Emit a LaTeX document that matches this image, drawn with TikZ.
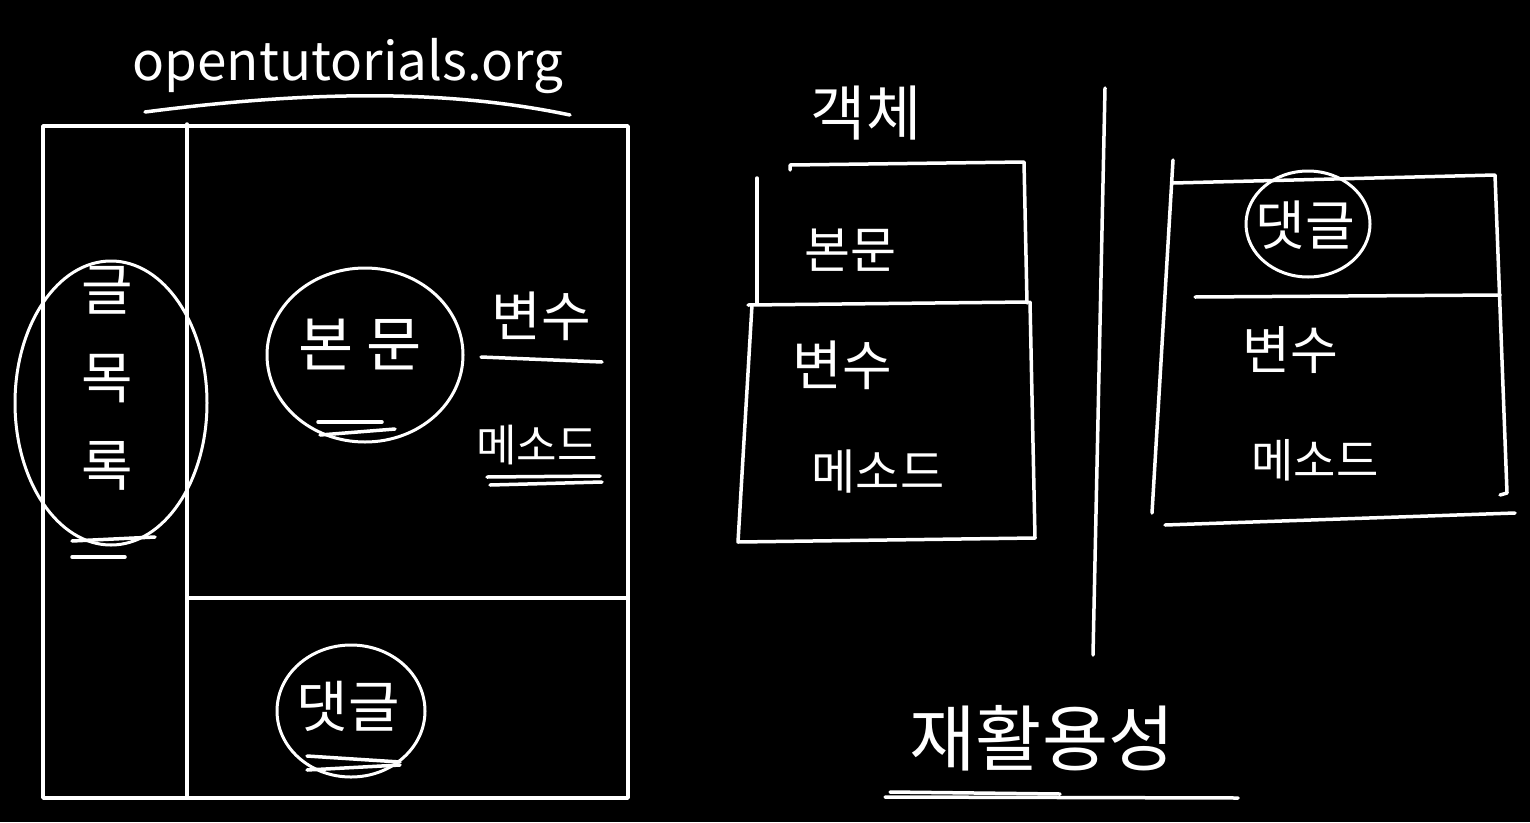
\documentclass[tikz,border=0pt]{standalone}
\usepackage{fontspec}
\setmainfont{Noto Sans CJK KR}
\usetikzlibrary{shapes.geometric}

\begin{document}
\begin{tikzpicture}[
    x=1pt, y=-1pt,
    pen/.style={draw=white, line width=3.5pt, line cap=round, line join=round},
    ring/.style={ellipse, draw=white, line width=3pt, inner sep=0pt},
    word/.style={text=white, inner sep=0pt, font=\fontsize{#1}{#1}\selectfont},
    word/.default=52,
]

%% Background
\fill[black] (0,0) rectangle (1530,822);

%% Title
\node[word=53] (site) at (348,66) {opentutorials.org};
\draw[pen] (145,112) .. controls (330,88) and (460,92) .. (570,115);

%% Left: page layout
\draw[pen] (43,126) rectangle (628,798);
\draw[pen] (187,124) -- (187,798);
\draw[pen] (187,598) -- (628,598);

\node[word, font=\fontsize{56}{88}\selectfont, align=center] (list) at (107,378) {글\\목\\록};
\node[ring, minimum width=192, minimum height=284] (listring) at (111,403) {};
\draw[pen] (72,541) -- (155,537);
\draw[pen] (72,557) -- (125,557);

\node[word=60] (body) at (360,345) {본 문};
\node[ring, minimum width=196, minimum height=174] (bodyring) at (365,355) {};
\draw[pen] (318,422) -- (382,422);
\draw[pen] (320,435) -- (395,429);

\node[word=54] (var) at (541,316) {변수};
\draw[pen] (481,357) -- (602,362);
\node[word=44] (method) at (537,445) {메소드};
\draw[pen] (487,477) -- (600,476);
\draw[pen] (490,485) -- (602,482);

\node[word=56] (reply) at (348,706) {댓글};
\node[ring, minimum width=148, minimum height=132] (replyring) at (351,711) {};
\draw[pen] (307,756) -- (400,762);
\draw[pen] (307,770) -- (400,765);

%% Right: object
\node[word=60] (object) at (866,113) {객체};
\draw[pen] (790,170) -- (790,165) -- (1024,162) -- (1027,303);
\draw[pen] (757,178) -- (757,303);
\draw[pen] (748,305) -- (1028,302);
\draw[pen] (752,305) -- (738,542) -- (1035,538) -- (1030,302);

\node[word=50] (obody) at (850,250) {본문};
\node[word=54] (ovar) at (842,365) {변수};
\node[word=48] (omethod) at (878,472) {메소드};

%% Divider
\draw[pen] (1105,88) -- (1093,655);

%% Right: comment object
\draw[pen] (1173,160) -- (1152,513);
\draw[pen] (1173,183) -- (1495,175) -- (1507,493) -- (1500,495);
\draw[pen] (1195,297) -- (1500,295);
\draw[pen] (1165,525) -- (1515,513);

\node[word=54] (creply) at (1305,225) {댓글};
\node[ring, minimum width=124, minimum height=106] (creplyring) at (1308,224) {};
\node[word=52] (cvar) at (1290,350) {변수};
\node[word=46] (cmethod) at (1315,460) {메소드};

%% Reuse
\node[word=72] (reuse) at (1042,738) {재활용성};
\draw[pen] (885,797) -- (1238,798);
\draw[pen] (890,792) -- (1060,794);

\end{tikzpicture}
\end{document}
